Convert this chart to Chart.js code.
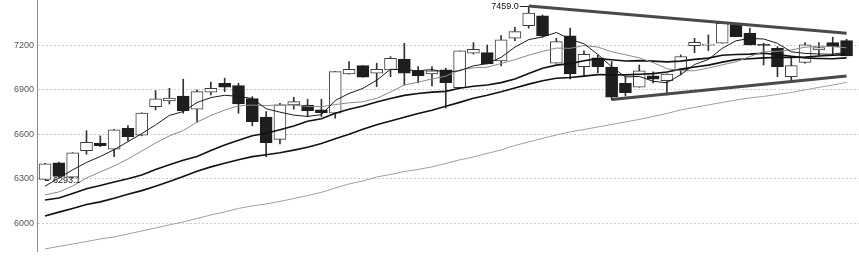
<!DOCTYPE html>
<html><head><meta charset="utf-8">
<script src="https://cdn.jsdelivr.net/npm/chart.js@4.4.0/dist/chart.umd.min.js"></script>
<style>html,body{margin:0;padding:0;background:#fff;}canvas{display:block;}</style>
</head><body>
<canvas id="c" width="859" height="261"></canvas>
<script>
const opens  = [6295,6407,6310,6489,6541,6499,6640,6593,6786,6825,6858,6769,6883,6944,6928,6840,6715,6566,6798,6796,6764,6742,7007,7063,7011,7034,7106,7027,7007,7034,6914,7146,7150,7094,7247,7332,7398,7079,7263,7056,7116,7052,6944,6917,6993,6961,7034,7197,7200,7214,7337,7281,7204,7180,6988,7085,7168,7218,7231];
const highs  = [6404,6412,6476,6624,6589,6634,6658,6745,6894,6910,6971,6899,6951,6978,6944,6854,6752,6809,6849,6836,6836,7022,7090,7063,7079,7123,7214,7056,7056,7045,7162,7218,7202,7265,7321,7459,7404,7247,7315,7162,7135,7090,6988,7067,7020,7008,7135,7247,7270,7348,7348,7315,7214,7191,7112,7218,7218,7254,7240];
const lows   = [6293.1,6310,6305,6465,6516,6449,6555,6590,6764,6804,6742,6681,6865,6887,6742,6656,6449,6535,6769,6719,6719,6708,7005,6984,6921,6988,6932,6946,6926,6777,6914,7141,7074,7060,7231,7315,7254,7079,6973,6995,7015,6831,6858,6917,6946,6865,7000,7150,7164,7214,7258,7202,7067,6988,6966,7079,7128,7130,7128];
const closes = [6400,6316,6474,6546,6523,6629,6584,6742,6838,6843,6759,6887,6910,6917,6804,6685,6543,6798,6820,6759,6746,7022,7038,6984,7038,7112,7011,6995,7027,6948,7162,7173,7074,7236,7292,7416,7263,7224,7007,7139,7056,6850,6881,7027,6972,7005,7123,7220,7203,7348,7258,7202,7199,7056,7063,7202,7184,7191,7128];

const ma5  = [6250,6305,6360,6410,6450,6496,6550,6604,6663,6727,6753,6814,6847,6863,6855,6841,6772,6749,6729,6720,6732,6828,6875,6909,6964,7038,7035,7028,7036,7018,7028,7061,7076,7118,7187,7238,7256,7286,7240,7210,7138,7055,6986,6990,6957,6947,7002,7070,7104,7179,7230,7246,7242,7213,7156,7145,7141,7139,7154];
const ma10 = [6191,6211,6251,6305,6346,6386,6433,6487,6541,6589,6625,6682,6726,6763,6791,6797,6793,6798,6796,6788,6786,6800,6812,6819,6842,6885,6932,6951,6973,6991,7033,7048,7052,7077,7103,7133,7158,7181,7179,7198,7188,7156,7136,7115,7083,7042,7028,7028,7047,7068,7088,7124,7156,7159,7168,7187,7194,7191,7183];
const ma20 = [6157,6170,6200,6232,6255,6278,6300,6325,6362,6395,6425,6450,6490,6528,6560,6590,6607,6630,6655,6688,6705,6741,6769,6791,6817,6841,6862,6875,6884,6889,6910,6924,6932,6948,6972,7009,7045,7066,7076,7095,7110,7102,7094,7096,7093,7088,7093,7105,7113,7133,7138,7140,7146,7137,7126,7115,7111,7109,7115];
const ma30 = [6049,6075,6100,6126,6144,6168,6195,6220,6250,6282,6315,6350,6380,6404,6428,6449,6462,6475,6493,6513,6537,6570,6600,6633,6664,6690,6715,6740,6762,6789,6815,6843,6863,6886,6912,6938,6961,6977,6983,6992,7002,7001,7000,7004,7009,7020,7039,7053,7066,7086,7103,7109,7115,7117,7118,7121,7127,7133,7137];
const ma60 = [5827,5844,5860,5877,5894,5908,5928,5948,5968,5989,6009,6032,6056,6076,6100,6117,6130,6147,6167,6187,6208,6238,6265,6285,6312,6329,6349,6363,6380,6403,6427,6447,6471,6494,6525,6548,6572,6595,6616,6632,6649,6666,6683,6700,6720,6740,6764,6781,6798,6814,6831,6845,6855,6868,6882,6899,6916,6932,6949];

const trendUpperX = [35, 58];
const trendUpperY = [7465, 7281];
const trendLowerX = [41, 58];
const trendLowerY = [6834, 6993];

const markIdx = [35, 0];
const markVal = [7459.0, 6293.1];

const yTicks = [6000, 6300, 6600, 6900, 7200];

Chart.defaults.font.family = '"Liberation Sans", Arial, sans-serif';

const idx = opens.map((_, i) => i);
const xy = arr => arr.map((v, i) => ({x: idx[i], y: v}));
const pts = (xs, ys) => xs.map((x, i) => ({x, y: ys[i]}));
const lineDs = (data, color, width) => ({
  type: 'line', data, borderColor: color, borderWidth: width,
  pointRadius: 0, pointHoverRadius: 0, fill: false, tension: 0, order: 1
});
const isUp = i => closes[i] >= opens[i];

const markPlugin = {
  id: 'marks',
  afterDatasetsDraw(chart) {
    const {ctx, scales} = chart;
    const sx = scales.x, sy = scales.y;
    ctx.save();
    ctx.font = '9px "Liberation Sans", Arial, sans-serif';
    ctx.fillStyle = '#111';
    ctx.strokeStyle = '#222';
    ctx.lineWidth = 1;
    ctx.textBaseline = 'middle';
    let px = sx.getPixelForValue(markIdx[0]);
    let py = Math.round(sy.getPixelForValue(markVal[0])) - 0.5;
    ctx.beginPath(); ctx.moveTo(px - 9, py); ctx.lineTo(px, py); ctx.stroke();
    ctx.textAlign = 'right';
    ctx.fillText(markVal[0].toFixed(1), px - 10, py);
    px = sx.getPixelForValue(markIdx[1]);
    py = Math.round(sy.getPixelForValue(markVal[1])) + 0.5;
    ctx.beginPath(); ctx.moveTo(px, py); ctx.lineTo(px + 4, py); ctx.stroke();
    ctx.textAlign = 'left';
    ctx.fillText(markVal[1].toFixed(1), px + 8, py);
    ctx.restore();
  }
};

new Chart(document.getElementById('c'), {
  type: 'bar',
  data: {
    datasets: [
      lineDs(xy(ma5), '#1a1a1a', 1),
      lineDs(xy(ma10), '#8a8a8a', 1),
      lineDs(xy(ma20), '#111111', 1.6),
      lineDs(xy(ma30), '#111111', 1.6),
      lineDs(xy(ma60), '#a0a0a0', 1),
      lineDs(pts(trendUpperX, trendUpperY), '#4a4a4a', 3),
      lineDs(pts(trendLowerX, trendLowerY), '#4a4a4a', 3),
      {
        type: 'bar',
        data: opens.map((o, i) => ({x: idx[i], y: [o, closes[i]]})),
        backgroundColor: c => isUp(c.dataIndex) ? '#ffffff' : '#1e1e1e',
        borderColor: c => isUp(c.dataIndex) ? '#3c3c3c' : '#1e1e1e',
        borderWidth: 1, borderSkipped: false,
        barThickness: 12, minBarLength: 1, grouped: false, order: 2
      },
      {
        type: 'bar',
        data: lows.map((l, i) => ({x: idx[i], y: [l, highs[i]]})),
        backgroundColor: '#333333', borderWidth: 0,
        barThickness: 1, grouped: false, order: 3
      }
    ]
  },
  options: {
    responsive: false, animation: false, devicePixelRatio: 1,
    layout: {padding: {left: 0, right: 0, top: 0, bottom: 10}},
    plugins: {legend: {display: false}, tooltip: {enabled: false}},
    scales: {
      x: {type: 'linear', display: false, offset: false, min: -0.58, max: 58.9, grid: {offset: false}},
      y: {
        type: 'linear', position: 'left', min: 5813, max: 7505,
        afterFit: s => { s.width = 37; s.paddingTop = 0; s.paddingBottom = 0; },
        afterBuildTicks: s => { s.ticks = yTicks.map(v => ({value: v})); },
        ticks: {color: '#555', font: {size: 9}, padding: 3, callback: v => String(v)},
        grid: {color: '#cccccc', lineWidth: 1, drawTicks: false, tickLength: 0},
        border: {display: true, color: '#8a8a8a', width: 1, dash: [2, 2]}
      }
    }
  },
  plugins: [markPlugin]
});
</script>
</body></html>
